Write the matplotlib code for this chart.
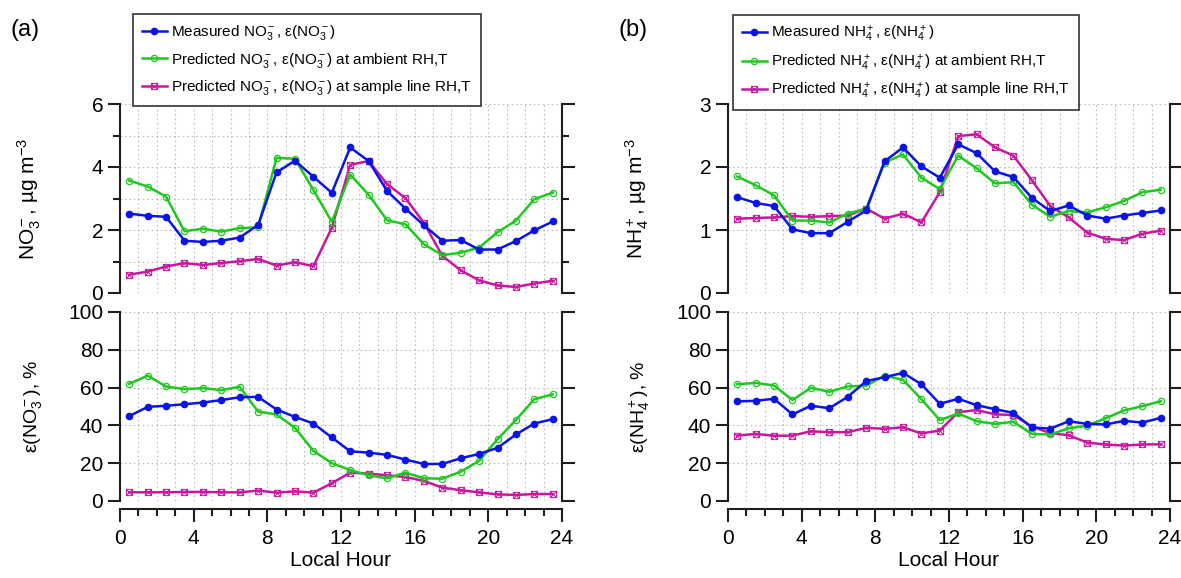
import matplotlib
matplotlib.use("Agg")
import matplotlib.pyplot as plt
import numpy as np
from matplotlib.path import Path
from matplotlib.ticker import MultipleLocator

plt.rcParams['font.family'] = ['Liberation Sans', 'DejaVu Sans']
plt.rcParams['mathtext.fontset'] = 'custom'
plt.rcParams['mathtext.rm'] = 'Liberation Sans'
plt.rcParams['mathtext.it'] = 'Liberation Sans:italic'
plt.rcParams['mathtext.bf'] = 'Liberation Sans:bold'

# local hour (bin centres)
hours = np.arange(24) + 0.5

# (a) nitrate concentration, ug m-3
no3_meas = [2.52, 2.45, 2.42, 1.66, 1.62, 1.66, 1.76, 2.16, 3.83, 4.20, 3.69, 3.18,
            4.62, 4.19, 3.24, 2.68, 2.15, 1.66, 1.68, 1.38, 1.38, 1.65, 1.99, 2.27]
no3_amb = [3.57, 3.38, 3.06, 1.96, 2.04, 1.95, 2.06, 2.08, 4.29, 4.26, 3.27, 2.26,
           3.76, 3.12, 2.31, 2.18, 1.55, 1.20, 1.28, 1.44, 1.93, 2.30, 2.98, 3.19]
no3_line = [0.58, 0.68, 0.84, 0.95, 0.89, 0.95, 1.01, 1.08, 0.87, 0.98, 0.85, 2.07,
            4.07, 4.19, 3.46, 3.01, 2.23, 1.18, 0.72, 0.40, 0.24, 0.19, 0.30, 0.39]

# (a) nitrate particle fraction, %
eps_no3_meas = [44.9, 49.8, 50.4, 51.2, 52.1, 53.4, 54.9, 55.1, 48.4, 44.5, 41.0, 33.6,
                26.3, 25.6, 24.4, 21.9, 19.6, 19.6, 22.6, 24.9, 28.1, 35.2, 41.0, 43.3]
eps_no3_amb = [62.0, 66.3, 60.6, 59.2, 59.7, 58.7, 60.4, 47.3, 45.8, 38.7, 26.5, 20.0,
               16.4, 13.6, 12.0, 15.0, 12.0, 11.8, 15.5, 21.2, 32.7, 42.9, 53.9, 56.4]
eps_no3_line = [4.6, 4.6, 4.6, 4.8, 4.8, 4.6, 4.6, 5.5, 4.4, 5.1, 4.4, 9.4,
                15.0, 14.5, 13.6, 12.7, 10.6, 7.1, 5.7, 4.6, 3.5, 3.2, 3.7, 3.7]

# (b) ammonium concentration, ug m-3
nh4_meas = [1.52, 1.43, 1.38, 1.01, 0.95, 0.95, 1.13, 1.31, 2.09, 2.31, 2.01, 1.83,
            2.36, 2.22, 1.93, 1.84, 1.51, 1.30, 1.39, 1.23, 1.18, 1.23, 1.27, 1.31]
nh4_amb = [1.85, 1.71, 1.55, 1.15, 1.15, 1.12, 1.26, 1.34, 2.07, 2.20, 1.83, 1.65,
           2.18, 1.98, 1.74, 1.76, 1.40, 1.21, 1.30, 1.28, 1.36, 1.46, 1.60, 1.64]
nh4_line = [1.18, 1.19, 1.20, 1.22, 1.21, 1.22, 1.23, 1.34, 1.18, 1.26, 1.12, 1.60,
            2.49, 2.52, 2.31, 2.18, 1.79, 1.38, 1.20, 0.96, 0.86, 0.84, 0.94, 0.99]

# (b) ammonium particle fraction, %
eps_nh4_meas = [52.7, 53.0, 54.1, 45.8, 50.4, 49.1, 55.1, 63.4, 65.5, 67.8, 61.8, 51.4,
                54.1, 50.7, 48.6, 46.6, 38.9, 38.3, 42.2, 40.8, 40.5, 42.4, 41.5, 44.0]
eps_nh4_amb = [61.8, 62.5, 61.1, 53.4, 59.9, 57.8, 60.6, 61.0, 66.3, 64.1, 53.9, 42.8,
               46.3, 42.2, 40.8, 41.9, 35.5, 35.2, 38.5, 39.8, 43.8, 47.9, 50.2, 52.8]
eps_nh4_line = [34.6, 35.5, 34.5, 34.6, 36.9, 36.4, 36.4, 38.7, 38.2, 39.0, 35.7, 37.3,
                47.0, 48.1, 45.9, 45.4, 39.4, 35.9, 34.8, 30.9, 29.9, 29.3, 29.9, 30.0]

BLUE = '#0a14e6'
GREEN = '#1ec81e'
MAGENTA = '#c8169e'
SPINE = '#1e1e1e'

# square with a cross inside
box_x = Path([(-1, -1), (1, -1), (1, 1), (-1, 1), (-1, -1), (1, 1), (-1, 1), (1, -1)],
             [Path.MOVETO, Path.LINETO, Path.LINETO, Path.LINETO, Path.LINETO,
              Path.LINETO, Path.MOVETO, Path.LINETO])

fig = plt.figure(figsize=(11.81, 5.78), dpi=100)

W = 442 / 1181
H = 189 / 578
lefts = [120 / 1181, 728 / 1181]
bot_top = 1 - 293 / 578
bot_bot = 1 - 501 / 578


def style_axis(ax, ymax, ymajor, yminor, xaxis):
    ax.set_xlim(0, 24)
    ax.set_ylim(0, ymax)
    for s in ['left', 'right', 'bottom']:
        ax.spines[s].set_linewidth(1.5)
        ax.spines[s].set_color(SPINE)
    ax.spines['top'].set_visible(False)
    ax.yaxis.set_major_locator(MultipleLocator(ymajor))
    if yminor:
        ax.yaxis.set_minor_locator(MultipleLocator(yminor))
    ax.xaxis.set_major_locator(MultipleLocator(4))
    ax.xaxis.set_minor_locator(MultipleLocator(1))
    ax.tick_params(axis='y', which='major', direction='out', length=9, width=1.5,
                   color=SPINE, left=True, right=True, labelsize=15, pad=3)
    ax.tick_params(axis='y', which='minor', direction='out', length=5, width=1.5,
                   color=SPINE, left=True, right=True)
    ax.grid(True, which='both', axis='x', linestyle=(0, (1.5, 2.5)), color='#bdbdbd', lw=0.8)
    ax.grid(True, which='both' if yminor else 'major', axis='y',
            linestyle=(0, (1.5, 2.5)), color='#bdbdbd', lw=0.8)
    ax.set_axisbelow(True)
    if xaxis:
        ax.spines['bottom'].set_position(('outward', 6))
        ax.tick_params(axis='x', which='major', direction='out', length=9, width=1.5,
                       color=SPINE, labelsize=15, pad=5)
        ax.tick_params(axis='x', which='minor', direction='out', length=5, width=1.5,
                       color=SPINE)
        ax.set_xticks(np.arange(0, 25, 4))
        ax.set_xlabel('Local Hour', fontsize=15, labelpad=2)
    else:
        ax.spines['bottom'].set_visible(False)
        ax.tick_params(axis='x', which='both', bottom=False, labelbottom=False)


def draw(ax, meas, amb, line):
    h1, = ax.plot(hours, meas, color=BLUE, lw=1.8, marker='o', ms=4.5,
                  mfc=BLUE, mec=BLUE, clip_on=False, zorder=5)
    h2, = ax.plot(hours, amb, color=GREEN, lw=1.8, marker='o', ms=4.5,
                  mfc='none', mec=GREEN, mew=0.9, clip_on=False, zorder=4)
    h3, = ax.plot(hours, line, color=MAGENTA, lw=1.8, marker=box_x, ms=4.5,
                  mfc='none', mec=MAGENTA, mew=0.7, clip_on=False, zorder=3)
    return [h1, h2, h3]


panels = [
    dict(tag='(a)', ion=r'NO$_3^-$', top=(no3_meas, no3_amb, no3_line),
         bot=(eps_no3_meas, eps_no3_amb, eps_no3_line), ymax=6, ymaj=2, ymin=1,
         ylab=r'NO$_3^-$, µg m$^{-3}$', elab=r'ε(NO$_3^-$), %'),
    dict(tag='(b)', ion=r'NH$_4^+$', top=(nh4_meas, nh4_amb, nh4_line),
         bot=(eps_nh4_meas, eps_nh4_amb, eps_nh4_line), ymax=3, ymaj=1, ymin=None,
         ylab=r'NH$_4^+$, µg m$^{-3}$', elab=r'ε(NH$_4^+$), %'),
]

legend_boxes = [(133, 14), (733, 15)]
tag_x = [10, 618]

for i, p in enumerate(panels):
    ax_t = fig.add_axes([lefts[i], bot_top, W, H])
    ax_b = fig.add_axes([lefts[i], bot_bot, W, H])
    style_axis(ax_t, p['ymax'], p['ymaj'], p['ymin'], False)
    style_axis(ax_b, 100, 20, None, True)
    handles = draw(ax_t, *p['top'])
    draw(ax_b, *p['bot'])
    ax_t.set_ylabel(p['ylab'], fontsize=15)
    ax_b.set_ylabel(p['elab'], fontsize=14)
    ax_t.yaxis.set_label_coords(-0.175, 0.5)
    ax_b.yaxis.set_label_coords(-0.172, 0.5)

    ion = p['ion']
    eps = 'ε(' + ion + ')'
    labels = ['Measured ' + ion + ', ' + eps,
              'Predicted ' + ion + ', ' + eps + ' at ambient RH,T',
              'Predicted ' + ion + ', ' + eps + ' at sample line RH,T']
    x0, y0 = legend_boxes[i]
    leg = fig.legend(handles, labels, loc='upper left',
                     bbox_to_anchor=(x0 / 1181, 1 - y0 / 578),
                     fontsize=11, frameon=True, fancybox=False, edgecolor='black',
                     handlelength=1.6, handletextpad=0.3, borderpad=0.6,
                     labelspacing=0.55, borderaxespad=0)
    leg.get_frame().set_linewidth(1.2)
    leg.set_zorder(10)

    fig.text(tag_x[i] / 1181, 1 - 30 / 578, p['tag'], fontsize=17, va='center', ha='left')

fig.savefig('out.png', dpi=100)
